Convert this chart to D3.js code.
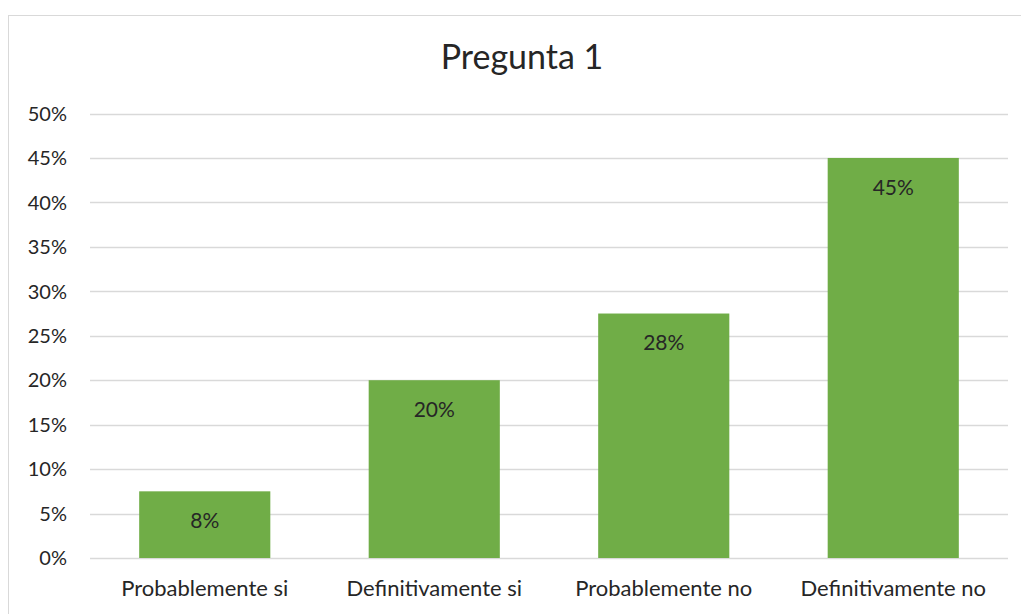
<!DOCTYPE html>
<html>
<head>
<meta charset="utf-8">
<script src="https://cdn.jsdelivr.net/npm/d3@7"></script>
<style>
    body { margin: 0; background: #ffffff; }
    text { font-family: Lato, 'Open Sans', sans-serif; fill: #262626; }
</style>
</head>
<body>
<script>
const title = "Pregunta 1";
const categories = ["Probablemente si", "Definitivamente si", "Probablemente no", "Definitivamente no"];
const values = [0.075, 0.20, 0.275, 0.45];
const labels = ["8%", "20%", "28%", "45%"];
const ticks = [0, 0.05, 0.10, 0.15, 0.20, 0.25, 0.30, 0.35, 0.40, 0.45, 0.50];

const width = 1021, height = 614;
const plot = { left: 90, right: 1008, top: 113.5, bottom: 558 };

let svg = d3.select("body")
    .append("svg")
    .attr("width", width)
    .attr("height", height);

// chart area border (runs off the right and bottom edge)
svg.append("rect")
    .attr("x", 8.5)
    .attr("y", 15.5)
    .attr("width", 1030)
    .attr("height", 640)
    .attr("fill", "white")
    .attr("stroke", "#d9d9d9")
    .attr("stroke-width", 1);

let x = d3.scaleBand()
    .domain(categories)
    .range([plot.left, plot.right])
    .paddingInner(0.75 / 1.75)
    .paddingOuter(0.75 / 3.5);

let y = d3.scaleLinear()
    .domain([0, 0.5])
    .range([plot.bottom, plot.top]);

// gridlines
svg.append("g")
    .selectAll("line")
    .data(ticks)
    .enter()
    .append("line")
    .attr("x1", plot.left)
    .attr("x2", plot.right)
    .attr("y1", d => Math.round(y(d)) + 0.5)
    .attr("y2", d => Math.round(y(d)) + 0.5)
    .attr("stroke", "#d9d9d9")
    .attr("stroke-width", 1.5);

// y tick labels
svg.append("g")
    .selectAll("text")
    .data(ticks)
    .enter()
    .append("text")
    .attr("x", 67)
    .attr("y", d => y(d))
    .attr("dy", "0.36em")
    .attr("text-anchor", "end")
    .attr("font-size", 20)
    .text(d3.format(".0%"));

// bars
svg.append("g")
    .selectAll("rect")
    .data(values)
    .enter()
    .append("rect")
    .attr("x", (d, i) => x(categories[i]))
    .attr("y", d => y(d))
    .attr("width", x.bandwidth())
    .attr("height", d => y(0) - y(d))
    .attr("fill", "#70ad47");

// data labels, inside end
svg.append("g")
    .selectAll("text")
    .data(values)
    .enter()
    .append("text")
    .attr("x", (d, i) => x(categories[i]) + x.bandwidth() / 2)
    .attr("y", d => y(d) + 29)
    .attr("dy", "0.36em")
    .attr("text-anchor", "middle")
    .attr("font-size", 21)
    .text((d, i) => labels[i]);

// category labels
svg.append("g")
    .selectAll("text")
    .data(categories)
    .enter()
    .append("text")
    .attr("x", d => x(d) + x.bandwidth() / 2)
    .attr("y", 596)
    .attr("text-anchor", "middle")
    .attr("font-size", 22)
    .text(d => d);

// title
svg.append("text")
    .attr("x", 522)
    .attr("y", 69)
    .attr("text-anchor", "middle")
    .attr("font-size", 34)
    .text(title);
</script>
</body>
</html>
